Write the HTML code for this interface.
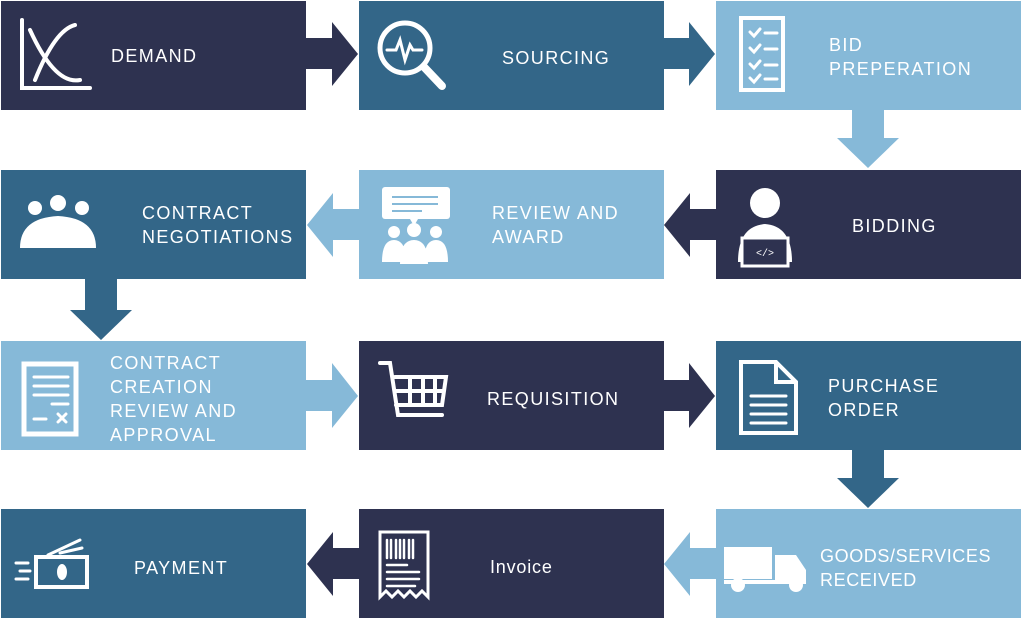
<!DOCTYPE html>
<html><head><meta charset="utf-8"><style>
html,body{margin:0;padding:0;background:#fff;}
#c{position:relative;width:1024px;height:620px;overflow:hidden;font-family:"Liberation Sans",sans-serif;}
.b{position:absolute;width:305px;height:109px;}
.n{background:#2e3250}.m{background:#336688}.l{background:#86b9d8}
.t{position:absolute;color:#fff;font-size:18px;line-height:24px;letter-spacing:1.4px;}
svg{position:absolute;left:0;top:0}
</style></head><body><div id="c">
<div class="b n" style="left:1px;top:1px"></div>
<div class="b m" style="left:359px;top:1px"></div>
<div class="b l" style="left:716px;top:1px"></div>
<div class="b m" style="left:1px;top:170px"></div>
<div class="b l" style="left:359px;top:170px"></div>
<div class="b n" style="left:716px;top:170px"></div>
<div class="b l" style="left:1px;top:341px"></div>
<div class="b n" style="left:359px;top:341px"></div>
<div class="b m" style="left:716px;top:341px"></div>
<div class="b m" style="left:1px;top:509px"></div>
<div class="b n" style="left:359px;top:509px"></div>
<div class="b l" style="left:716px;top:509px"></div>

<svg width="1024" height="620">
<polygon points="306,38 332,38 332,22 358,54 332,86 332,69 306,69" fill="#2e3250"/>
<polygon points="663,38 689,38 689,22 715,54 689,86 689,69 663,69" fill="#336688"/>
<polygon points="852,110 884,110 884,138 899,138 868,168 837,138 852,138" fill="#86b9d8"/>
<polygon points="716,209 690,209 690,193 664,225 690,257 690,240 716,240" fill="#2e3250"/>
<polygon points="359,209 333,209 333,193 307,225 333,257 333,240 359,240" fill="#86b9d8"/>
<polygon points="85,279 117,279 117,310 132,310 101,340 70,310 85,310" fill="#336688"/>
<polygon points="306,380 332,380 332,363 358,396 332,428 332,411 306,411" fill="#86b9d8"/>
<polygon points="663,380 689,380 689,363 715,396 689,428 689,411 663,411" fill="#2e3250"/>
<polygon points="852,450 884,450 884,478 899,478 868,508 837,478 852,478" fill="#336688"/>
<polygon points="716,548 690,548 690,532 664,564 690,596 690,579 716,579" fill="#86b9d8"/>
<polygon points="359,548 333,548 333,532 307,564 333,596 333,579 359,579" fill="#2e3250"/>

<g stroke="#fff" fill="none" stroke-width="4" stroke-linecap="round">
<path d="M22,20 L22,88 L90,88"/><path d="M30,30 Q55,85 80,80" /><path d="M35,80 Q55,30 75,25"/>
<circle cx="405" cy="48" r="25" stroke-width="5"/><path d="M424,67 L442,86" stroke-width="8"/>
<path d="M387,50 L396,50 L400,40 L405,60 L410,45 L413,50 L422,50" stroke-width="3"/>
<rect x="741" y="18" width="42" height="72" stroke-width="4"/>
<path d="M750,32 l4,4 l6,-7 M750,48 l4,4 l6,-7 M750,64 l4,4 l6,-7 M750,78 l4,4 l6,-7 M765,33 h12 M765,49 h12 M765,65 h12 M765,79 h12" stroke-width="3"/>
<rect x="24" y="364" width="52" height="70" stroke-width="5"/>
<path d="M34,377 h34 M34,386 h34 M34,395 h34 M52,404 h16 M34,419 h12 M58,414 l8,8 M66,414 l-8,8" stroke-width="3"/>
<path d="M380,363 L390,363 L398,415 L442,415 M395,377 L446,377 L442,405 L396,405 M410,377 V405 M423,377 V405 M435,377 V405 M396,391 H444" stroke-width="4"/>
<path d="M741,362 L776,362 L796,382 L796,433 L741,433 Z M776,362 V382 H796" stroke-width="4"/>
<path d="M751,396 h35 M751,405 h35 M751,414 h35 M751,423 h35" stroke-width="3"/>
<path d="M380,532 L380,597 L386,591 L392,597 L398,591 L404,597 L410,591 L416,597 L422,591 L428,597 L428,532 Z" stroke-width="3"/>
<path d="M387,540 v18 M391,540 v18 M396,540 v18 M400,540 v18 M404,540 v18 M409,540 v18 M413,540 v18 M387,565 h20 M387,572 h32 M387,579 h32 M387,586 h28" stroke-width="2.5"/>
<rect x="36" y="557" width="51" height="30" stroke-width="4"/>
<path d="M16,563 h12 M20,571 h10 M16,579 h12 M48,555 L80,540 M60,553 L82,548" stroke-width="3"/>
</g>
<g fill="#fff">
<ellipse cx="62" cy="572" rx="5" ry="8"/>
<circle cx="35" cy="208" r="7"/><circle cx="58" cy="203" r="8"/><circle cx="82" cy="208" r="7"/>
<path d="M20,248 Q20,218 58,216 Q96,218 96,248 Z"/>
<rect x="382" y="187" width="68" height="32" rx="3"/>
<polygon points="410,219 418,219 414,226"/>
<circle cx="394" cy="232" r="6"/><circle cx="414" cy="230" r="7"/><circle cx="436" cy="232" r="6"/>
<path d="M382,262 Q382,240 394,240 Q406,240 406,262Z M400,264 Q400,240 414,240 Q428,240 428,264Z M424,262 Q424,240 436,240 Q448,240 448,262Z"/>
<circle cx="765" cy="203" r="15"/>
<path d="M738,262 Q738,226 765,224 Q792,226 792,262Z"/>
<rect x="742" y="238" width="46" height="28" fill="#2e3250" stroke="#fff" stroke-width="3"/>
<rect x="724" y="547" width="48" height="32"/>
<path d="M775,555 L796,555 L806,570 L806,582 L775,582Z"/>
<rect x="724" y="580" width="82" height="4"/>
<circle cx="738" cy="585" r="7"/><circle cx="796" cy="585" r="7"/>
</g>
<text x="765" y="256" fill="#fff" font-size="10" font-family="Liberation Mono" text-anchor="middle">&lt;/&gt;</text>
<g stroke="#86b9d8" stroke-width="2"><path d="M392,197 h46 M392,204 h46 M392,211 h30"/></g>
</svg>

<div class="t" style="left:111px;top:44px">DEMAND</div>
<div class="t" style="left:502px;top:46px">SOURCING</div>
<div class="t" style="left:829px;top:33px">BID<br>PREPERATION</div>
<div class="t" style="left:142px;top:201px">CONTRACT<br>NEGOTIATIONS</div>
<div class="t" style="left:492px;top:201px">REVIEW AND<br>AWARD</div>
<div class="t" style="left:852px;top:214px">BIDDING</div>
<div class="t" style="left:110px;top:351px">CONTRACT<br>CREATION<br>REVIEW AND<br>APPROVAL</div>
<div class="t" style="left:487px;top:387px">REQUISITION</div>
<div class="t" style="left:828px;top:374px">PURCHASE<br>ORDER</div>
<div class="t" style="left:134px;top:556px">PAYMENT</div>
<div class="t" style="left:490px;top:555px;letter-spacing:0.8px">Invoice</div>
<div class="t" style="left:820px;top:544px;letter-spacing:0.6px">GOODS/SERVICES<br>RECEIVED</div>
</div></body></html>
